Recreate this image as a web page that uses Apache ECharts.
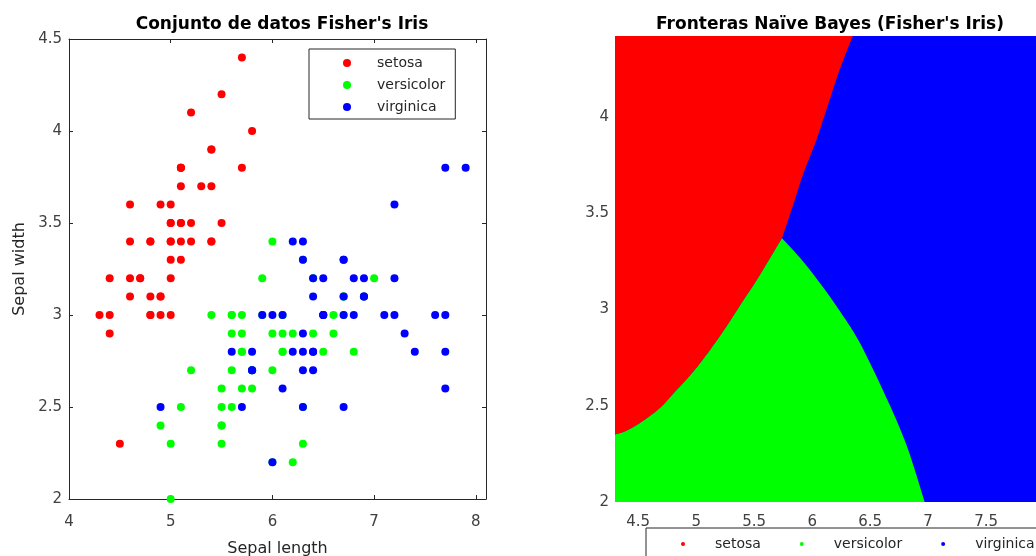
<!DOCTYPE html>
<html>
<head>
<meta charset="utf-8">
<title>Fisher's Iris - Naive Bayes</title>
<script src="https://cdn.jsdelivr.net/npm/echarts@6/dist/echarts.min.js"></script>
<style>
    html, body {margin: 0; padding: 0; background: #fff;}
    #main {width: 1036px; height: 556px;}
</style>
</head>
<body>
<div id="main"></div>
<script>
// clases y colores
var classNames = ['setosa', 'versicolor', 'virginica'];
var classColors = ['#ff0000', '#00ff00', '#0000ff'];

// [sepal length, sepal width]
var setosa = [
    [5.1, 3.5], [4.9, 3.0], [4.7, 3.2], [4.6, 3.1], [5.0, 3.6], [5.4, 3.9], [4.6, 3.4], [5.0, 3.4], [4.4, 2.9], [4.9, 3.1],
    [5.4, 3.7], [4.8, 3.4], [4.8, 3.0], [4.3, 3.0], [5.8, 4.0], [5.7, 4.4], [5.4, 3.9], [5.1, 3.5], [5.7, 3.8], [5.1, 3.8],
    [5.4, 3.4], [5.1, 3.7], [4.6, 3.6], [5.1, 3.3], [4.8, 3.4], [5.0, 3.0], [5.0, 3.4], [5.2, 3.5], [5.2, 3.4], [4.7, 3.2],
    [4.8, 3.1], [5.4, 3.4], [5.2, 4.1], [5.5, 4.2], [4.9, 3.1], [5.0, 3.2], [5.5, 3.5], [4.9, 3.6], [4.4, 3.0], [5.1, 3.4],
    [5.0, 3.5], [4.5, 2.3], [4.4, 3.2], [5.0, 3.5], [5.1, 3.8], [4.8, 3.0], [5.1, 3.8], [4.6, 3.2], [5.3, 3.7], [5.0, 3.3]
];
var versicolor = [
    [7.0, 3.2], [6.4, 3.2], [6.9, 3.1], [5.5, 2.3], [6.5, 2.8], [5.7, 2.8], [6.3, 3.3], [4.9, 2.4], [6.6, 2.9], [5.2, 2.7],
    [5.0, 2.0], [5.9, 3.0], [6.0, 2.2], [6.1, 2.9], [5.6, 2.9], [6.7, 3.1], [5.6, 3.0], [5.8, 2.7], [6.2, 2.2], [5.6, 2.5],
    [5.9, 3.2], [6.1, 2.8], [6.3, 2.5], [6.1, 2.8], [6.4, 2.9], [6.6, 3.0], [6.8, 2.8], [6.7, 3.0], [6.0, 2.9], [5.7, 2.6],
    [5.5, 2.4], [5.5, 2.4], [5.8, 2.7], [6.0, 2.7], [5.4, 3.0], [6.0, 3.4], [6.7, 3.1], [6.3, 2.3], [5.6, 3.0], [5.5, 2.5],
    [5.5, 2.6], [6.1, 3.0], [5.8, 2.6], [5.0, 2.3], [5.6, 2.7], [5.7, 3.0], [5.7, 2.9], [6.2, 2.9], [5.1, 2.5], [5.7, 2.8]
];
var virginica = [
    [6.3, 3.3], [5.8, 2.7], [7.1, 3.0], [6.3, 2.9], [6.5, 3.0], [7.6, 3.0], [4.9, 2.5], [7.3, 2.9], [6.7, 2.5], [7.2, 3.6],
    [6.5, 3.2], [6.4, 2.7], [6.8, 3.0], [5.7, 2.5], [5.8, 2.8], [6.4, 3.2], [6.5, 3.0], [7.7, 3.8], [7.7, 2.6], [6.0, 2.2],
    [6.9, 3.2], [5.6, 2.8], [7.7, 2.8], [6.3, 2.7], [6.7, 3.3], [7.2, 3.2], [6.2, 2.8], [6.1, 3.0], [6.4, 2.8], [7.2, 3.0],
    [7.4, 2.8], [7.9, 3.8], [6.4, 2.8], [6.3, 2.8], [6.1, 2.6], [7.7, 3.0], [6.3, 3.4], [6.4, 3.1], [6.0, 3.0], [6.9, 3.1],
    [6.7, 3.1], [6.9, 3.1], [5.8, 2.7], [6.8, 3.2], [6.7, 3.3], [6.7, 3.0], [6.3, 2.5], [6.5, 3.0], [6.2, 3.4], [5.9, 3.0]
];

// fronteras (x, y)
var borderRedBlue = [[6.35, 4.42], [6.24, 4.25], [6.13, 4.05], [6.03, 3.87], [5.92, 3.70], [5.84, 3.55], [5.74, 3.37]];
var borderRedGreen = [[5.74, 3.37], [5.64, 3.27], [5.52, 3.15], [5.41, 3.05], [5.26, 2.91], [5.12, 2.79], [4.98, 2.68],
    [4.83, 2.58], [4.69, 2.49], [4.54, 2.42], [4.40, 2.37], [4.30, 2.35]];
var borderGreenBlue = [[5.74, 3.37], [5.92, 3.25], [6.10, 3.11], [6.24, 2.99], [6.38, 2.86], [6.50, 2.72], [6.61, 2.58],
    [6.73, 2.42], [6.84, 2.25], [6.97, 2.0]];

// limites del mapa de regiones
var regionX = [4.3, 7.93];
var regionY = [2, 4.42];
var regionXTicks = [4.5, 5, 5.5, 6, 6.5, 7, 7.5];
var regionYTicks = [2, 2.5, 3, 3.5, 4];

var font = 'DejaVu Sans';
var axisColor = '#262626';
var labelColor = '#404040';

// cada region: esquinas fijas + fronteras (se dibujan suavizadas)
var regionBlue = [{corner: [[regionX[0], regionY[0]], [regionX[1], regionY[0]], [regionX[1], regionY[1]], [regionX[0], regionY[1]]]}];
var regionRed = [{corner: [[regionX[0], regionY[1]]]}, {border: borderRedBlue}, {border: borderRedGreen}];
var regionGreen = [{corner: [[regionX[0], regionY[0]]]}, {border: borderRedGreen.slice().reverse()}, {border: borderGreenBlue}];

// curva suave (catmull-rom) en pixeles entre los puntos leidos
function smoothPx(px) {
    var out = [];
    for (var i = 0; i < px.length - 1; i++) {
        var p0 = px[Math.max(i - 1, 0)], p1 = px[i], p2 = px[i + 1], p3 = px[Math.min(i + 2, px.length - 1)];
        for (var k = 0; k < 8; k++) {
            var t = k / 8, t2 = t * t, t3 = t2 * t;
            out.push([0, 1].map(function (d) {
                return 0.5 * (2 * p1[d] + (-p0[d] + p2[d]) * t + (2 * p0[d] - 5 * p1[d] + 4 * p2[d] - p3[d]) * t2 +
                    (-p0[d] + 3 * p1[d] - 3 * p2[d] + p3[d]) * t3);
            }));
        }
    }
    out.push(px[px.length - 1]);
    return out;
}

function regionSeries(name, color, parts, z) {
    var pts = [];
    parts.forEach(function (p) { pts = pts.concat(p.corner || p.border); });
    return {
        type: 'custom',
        name: name,
        xAxisIndex: 2,
        yAxisIndex: 2,
        z: z,
        silent: true,
        itemStyle: {color: color},
        data: pts,
        renderItem: function (params, api) {
            if (params.dataIndex !== 0) return null;
            var points = [];
            parts.forEach(function (p) {
                if (p.corner) {
                    p.corner.forEach(function (c) { points.push(api.coord(c)); });
                } else {
                    points = points.concat(smoothPx(p.border.map(function (c) { return api.coord(c); })));
                }
            });
            return {type: 'polygon', shape: {points: points}, style: {fill: color}};
        }
    };
}

function scatterSeries(name, color, pts) {
    return {
        type: 'scatter',
        name: name,
        xAxisIndex: 0,
        yAxisIndex: 0,
        symbol: 'circle',
        symbolSize: 8,
        itemStyle: {color: color, opacity: 1},
        data: pts
    };
}

// marco del primer grafico
var frameAxis = {
    axisLine: {show: true, lineStyle: {color: axisColor, width: 1}},
    axisTick: {show: true, inside: true, length: 4, lineStyle: {color: axisColor}},
    splitLine: {show: false}
};

var chart = echarts.init(document.getElementById('main'));
var option = {
    animation: false,
    backgroundColor: '#fff',
    textStyle: {fontFamily: font},
    title: [
        {text: 'Conjunto de datos Fisher\'s Iris', left: 277, top: 11, textAlign: 'center',
            textStyle: {fontFamily: font, fontSize: 17, fontWeight: 'bold', color: '#000'}},
        {text: 'Fronteras Naïve Bayes (Fisher\'s Iris)', left: 825, top: 11, textAlign: 'center',
            textStyle: {fontFamily: font, fontSize: 17, fontWeight: 'bold', color: '#000'}}
    ],
    legend: [
        {
            orient: 'vertical', left: 309, top: 49,
            padding: [6, 10, 4, 34], itemGap: 6, itemWidth: 8, itemHeight: 8,
            icon: 'circle', borderColor: axisColor, borderWidth: 1, backgroundColor: '#fff',
            selectedMode: false,
            data: classNames,
            textStyle: {fontFamily: font, fontSize: 14, color: '#262626', lineHeight: 16, padding: [0, 0, 0, 21]}
        },
        {
            orient: 'horizontal', left: 646, top: 528, width: 440,
            padding: [8, 30, 20, 35], itemGap: 39, itemWidth: 4, itemHeight: 4,
            icon: 'circle', borderColor: axisColor, borderWidth: 1, backgroundColor: '#fff',
            selectedMode: false,
            data: classNames,
            textStyle: {fontFamily: font, fontSize: 14, color: '#262626', lineHeight: 16, padding: [0, 0, 0, 25]}
        }
    ],
    grid: [
        {left: 69, top: 39, right: 550, bottom: 57, outerBoundsMode: 'none', containLabel: false},
        {left: 615, top: 36, right: 0, bottom: 54, outerBoundsMode: 'none', containLabel: false}
    ],
    xAxis: [
        Object.assign({}, frameAxis, {
            type: 'value', gridIndex: 0, position: 'bottom', min: 4, max: 8.1, interval: 1,
            name: 'Sepal length', nameLocation: 'middle', nameGap: 42,
            nameTextStyle: {fontFamily: font, fontSize: 16, color: '#262626'},
            axisLabel: {fontFamily: font, fontSize: 15, color: labelColor, margin: 16}
        }),
        Object.assign({}, frameAxis, {
            type: 'value', gridIndex: 0, position: 'top', min: 4, max: 8.1, interval: 1,
            axisLabel: {show: false}
        }),
        {
            type: 'value', gridIndex: 1, min: regionX[0], max: regionX[1],
            axisLine: {show: false}, axisTick: {show: false}, splitLine: {show: false},
            axisLabel: {fontFamily: font, fontSize: 15, color: labelColor, margin: 13, customValues: regionXTicks}
        }
    ],
    yAxis: [
        Object.assign({}, frameAxis, {
            type: 'value', gridIndex: 0, position: 'left', min: 2, max: 4.5, interval: 0.5,
            name: 'Sepal width', nameLocation: 'middle', nameGap: 41,
            nameTextStyle: {fontFamily: font, fontSize: 16, color: '#262626'},
            axisLabel: {fontFamily: font, fontSize: 15, color: labelColor, margin: 7}
        }),
        Object.assign({}, frameAxis, {
            type: 'value', gridIndex: 0, position: 'right', min: 2, max: 4.5, interval: 0.5,
            axisLabel: {show: false}
        }),
        {
            type: 'value', gridIndex: 1, min: regionY[0], max: regionY[1],
            axisLine: {show: false}, axisTick: {show: false}, splitLine: {show: false},
            axisLabel: {fontFamily: font, fontSize: 15, color: labelColor, margin: 6, customValues: regionYTicks}
        }
    ],
    series: [
        scatterSeries(classNames[0], classColors[0], setosa),
        scatterSeries(classNames[1], classColors[1], versicolor),
        scatterSeries(classNames[2], classColors[2], virginica),
        regionSeries(classNames[2], classColors[2], regionBlue, 1),
        regionSeries(classNames[0], classColors[0], regionRed, 2),
        regionSeries(classNames[1], classColors[1], regionGreen, 2)
    ]
};
chart.setOption(option);
</script>
</body>
</html>
